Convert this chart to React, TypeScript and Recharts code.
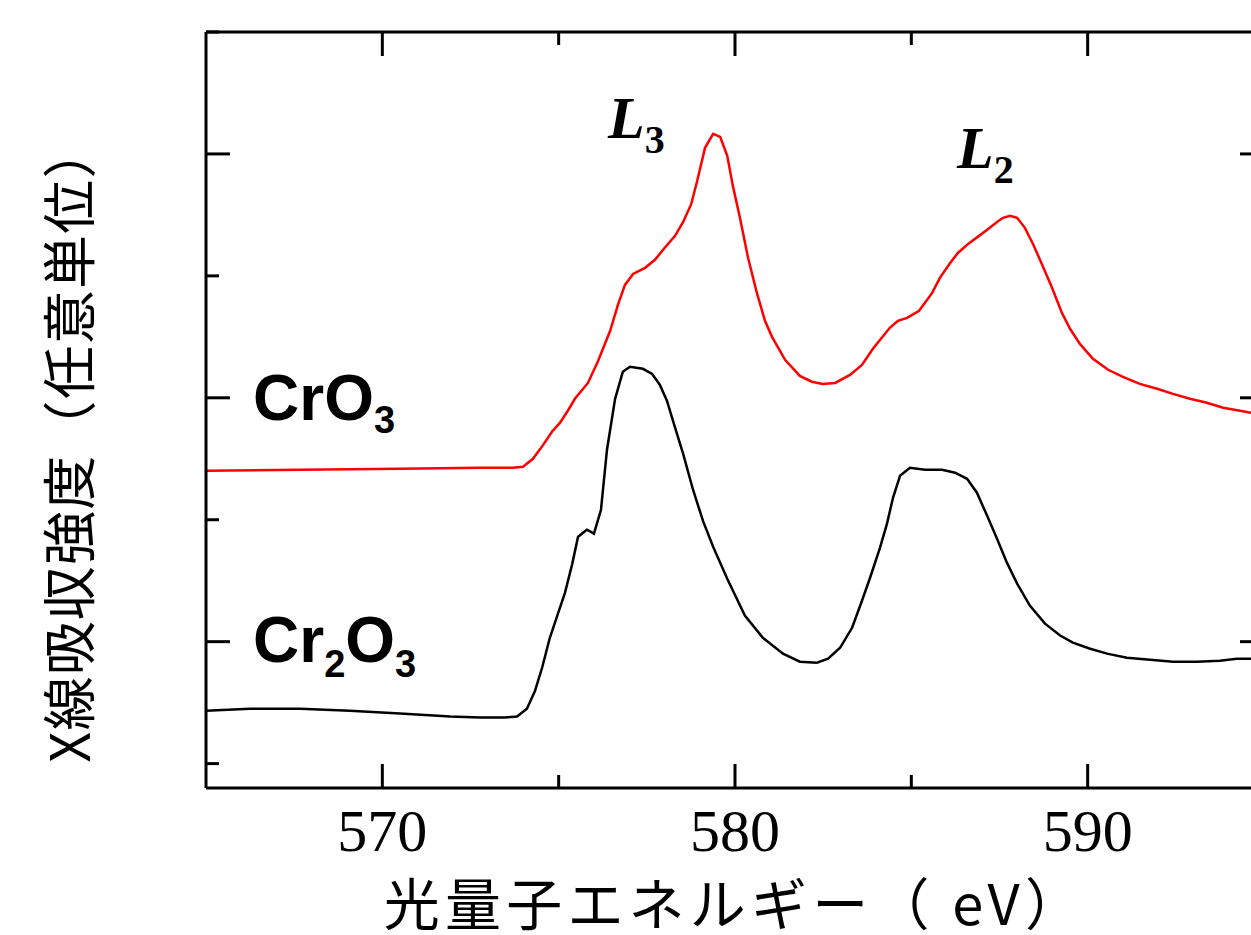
import React from 'react';
import { LineChart, Line, XAxis, YAxis } from 'recharts';

// Axis setup
const xTicks = [570, 575, 580, 585, 590];
const majorXTicks = [570, 580, 590];
const yTicks = [0.5, 1, 1.5, 2, 2.5, 3, 3.5];
const majorYTicks = [1, 2, 3];
const xDomain: [number, number] = [565, 595];
const yDomain: [number, number] = [0.4, 3.5];

// Labels
const xTitle = '光量子エネルギー（ eV）';
const yTitle = 'X線吸収強度（任意単位）';

// CrO3 spectrum (red)
const crO3Energy = [
  565.0, 567.67, 570.5, 572.77, 573.7, 573.99, 574.27, 574.56, 574.81, 575.04,
  575.26, 575.46, 575.83, 576.12, 576.46, 576.68, 576.88, 577.11, 577.45, 577.73,
  577.96, 578.3, 578.53, 578.76, 578.92, 579.15, 579.38, 579.58, 579.78, 579.94,
  580.14, 580.37, 580.62, 580.85, 581.05, 581.42, 581.84, 582.18, 582.49, 582.84,
  583.26, 583.6, 583.91, 584.39, 584.62, 584.88, 585.22, 585.59, 585.81, 586.1,
  586.32, 586.61, 586.92, 587.15, 587.43, 587.6, 587.8, 588.0, 588.22, 588.45,
  588.7, 588.99, 589.27, 589.5, 589.78, 590.15, 590.58, 591.0, 591.48, 591.97,
  592.42, 592.9, 593.38, 593.84, 594.32, 594.63, 595.0,
];
const crO3Intensity = [
  1.701, 1.705, 1.709, 1.713, 1.713, 1.717, 1.75, 1.807, 1.861, 1.898,
  1.947, 1.996, 2.061, 2.152, 2.275, 2.381, 2.463, 2.508, 2.533, 2.566,
  2.607, 2.664, 2.721, 2.795, 2.885, 3.025, 3.082, 3.07, 2.992, 2.869,
  2.738, 2.574, 2.43, 2.316, 2.25, 2.156, 2.09, 2.066, 2.057, 2.061,
  2.094, 2.135, 2.201, 2.287, 2.316, 2.328, 2.357, 2.43, 2.492, 2.553,
  2.594, 2.631, 2.664, 2.689, 2.721, 2.738, 2.746, 2.738, 2.697, 2.631,
  2.549, 2.451, 2.348, 2.283, 2.221, 2.16, 2.115, 2.086, 2.057, 2.037,
  2.016, 1.996, 1.98, 1.959, 1.947, 1.939, 1.93,
];

// Cr2O3 spectrum (black)
const cr2O3Energy = [
  565.0, 566.25, 567.67, 569.08, 570.5, 571.92, 572.77, 573.48, 573.82, 574.1,
  574.33, 574.53, 574.75, 574.98, 575.18, 575.38, 575.55, 575.8, 576.0, 576.2,
  576.37, 576.6, 576.82, 577.02, 577.39, 577.65, 577.87, 578.07, 578.24, 578.53,
  578.81, 579.1, 579.38, 579.78, 580.28, 580.79, 581.36, 581.84, 582.32, 582.64,
  582.98, 583.32, 583.6, 583.83, 584.11, 584.31, 584.48, 584.68, 584.96, 585.39,
  585.87, 586.24, 586.58, 586.86, 587.15, 587.43, 587.71, 588.0, 588.36, 588.79,
  589.22, 589.58, 590.07, 590.55, 591.11, 591.77, 592.42, 593.1, 593.75, 594.23,
  594.63, 595.0,
];
const cr2O3Intensity = [
  0.717, 0.725, 0.725, 0.717, 0.705, 0.693, 0.689, 0.689, 0.693, 0.725,
  0.799, 0.893, 1.016, 1.115, 1.201, 1.316, 1.43, 1.459, 1.443, 1.541,
  1.787, 1.996, 2.107, 2.127, 2.119, 2.098, 2.053, 1.988, 1.906, 1.77,
  1.623, 1.492, 1.389, 1.258, 1.107, 1.016, 0.951, 0.918, 0.914, 0.93,
  0.975, 1.057, 1.168, 1.262, 1.385, 1.484, 1.59, 1.68, 1.713, 1.705,
  1.705, 1.693, 1.668, 1.611, 1.516, 1.422, 1.324, 1.238, 1.148, 1.074,
  1.025, 0.996, 0.971, 0.951, 0.934, 0.926, 0.918, 0.918, 0.922, 0.93,
  0.93, 0.934,
];

const crO3Data = crO3Energy.map((e, i) => ({ e, v: crO3Intensity[i] }));
const cr2O3Data = cr2O3Energy.map((e, i) => ({ e, v: cr2O3Intensity[i] }));

const MAJOR = 24;
const MINOR = 13;
const AX = 3;

const BottomTick = (props: any) => {
  const { x, y, payload } = props;
  const major = majorXTicks.includes(payload.value);
  return (
    <g>
      <line x1={x} y1={y} x2={x} y2={y - (major ? MAJOR : MINOR)} stroke="#000" strokeWidth={AX} />
      {major && (
        <text
          x={x}
          y={y + 63}
          textAnchor="middle"
          fontFamily="'Liberation Serif', 'Times New Roman', serif"
          fontSize={60}
          fill="#000"
        >
          {String(payload.value)}
        </text>
      )}
    </g>
  );
};

const TopTick = (props: any) => {
  const { x, y, payload } = props;
  const major = majorXTicks.includes(payload.value);
  return <line x1={x} y1={y} x2={x} y2={y + (major ? MAJOR : MINOR)} stroke="#000" strokeWidth={AX} />;
};

const LeftTick = (props: any) => {
  const { x, y, payload } = props;
  const major = majorYTicks.includes(payload.value);
  return <line x1={x} y1={y} x2={x + (major ? MAJOR : MINOR)} y2={y} stroke="#000" strokeWidth={AX} />;
};

const RightTick = (props: any) => {
  const { x, y, payload } = props;
  const major = majorYTicks.includes(payload.value);
  return <line x1={x} y1={y} x2={x - (major ? MAJOR : MINOR)} y2={y} stroke="#000" strokeWidth={AX} />;
};

const axisLine = { stroke: '#000', strokeWidth: AX };

export default function App() {
  return (
    <div
      style={{
        position: 'absolute',
        left: 0,
        top: 0,
        width: 1251,
        height: 935,
        overflow: 'hidden',
        background: '#fff',
      }}
    >
      <LineChart width={1290} height={935} margin={{ top: 31, left: 205, right: 25, bottom: 146 }}>
        <XAxis
          xAxisId="b"
          dataKey="e"
          type="number"
          domain={xDomain}
          allowDataOverflow
          ticks={xTicks}
          height={1}
          tickSize={0}
          tickMargin={0}
          tickLine={false}
          axisLine={axisLine}
          tick={BottomTick}
          interval={0}
        />
        <XAxis
          xAxisId="t"
          orientation="top"
          dataKey="e"
          type="number"
          domain={xDomain}
          allowDataOverflow
          ticks={xTicks}
          height={1}
          tickSize={0}
          tickMargin={0}
          tickLine={false}
          axisLine={axisLine}
          tick={TopTick}
          interval={0}
        />
        <YAxis
          yAxisId="l"
          type="number"
          domain={yDomain}
          allowDataOverflow
          ticks={yTicks}
          width={1}
          tickSize={0}
          tickMargin={0}
          tickLine={false}
          axisLine={axisLine}
          tick={LeftTick}
          interval={0}
        />
        <YAxis
          yAxisId="r"
          orientation="right"
          type="number"
          domain={yDomain}
          allowDataOverflow
          ticks={yTicks}
          width={1}
          tickSize={0}
          tickMargin={0}
          tickLine={false}
          axisLine={axisLine}
          tick={RightTick}
          interval={0}
        />
        <Line
          data={crO3Data}
          dataKey="v"
          xAxisId="b"
          yAxisId="l"
          type="linear"
          stroke="#ff0000"
          strokeWidth={2.5}
          dot={false}
          activeDot={false}
          isAnimationActive={false}
        />
        <Line
          data={cr2O3Data}
          dataKey="v"
          xAxisId="b"
          yAxisId="l"
          type="linear"
          stroke="#000000"
          strokeWidth={2.5}
          dot={false}
          activeDot={false}
          isAnimationActive={false}
        />
      </LineChart>
      <svg
        width={1251}
        height={935}
        style={{ position: 'absolute', left: 0, top: 0, pointerEvents: 'none' }}
      >
        <text
          transform="translate(66,443) rotate(-90)"
          textAnchor="middle"
          dominantBaseline="central"
          fontFamily="'Noto Sans CJK JP', sans-serif"
          fontSize={54}
          letterSpacing={1.2}
          fill="#000"
        >
          {yTitle}
        </text>
        <text
          x={735}
          y={900}
          textAnchor="middle"
          dominantBaseline="central"
          fontFamily="'Noto Sans CJK JP', sans-serif"
          fontSize={56}
          letterSpacing={5.2}
          fill="#000"
        >
          {xTitle}
        </text>
        <text x={253} y={420} fontFamily="'Liberation Sans', Arial, sans-serif" fontWeight="bold" fontSize={64} fill="#000">
          CrO<tspan fontSize={38} dy={13}>3</tspan>
        </text>
        <text x={253} y={662} fontFamily="'Liberation Sans', Arial, sans-serif" fontWeight="bold" fontSize={64} fill="#000">
          Cr<tspan fontSize={38} dy={15}>2</tspan>
          <tspan dy={-15}>O</tspan>
          <tspan fontSize={38} dy={15}>3</tspan>
        </text>
        <text x={608} y={138} fontFamily="'Liberation Serif', 'Times New Roman', serif" fontWeight="bold" fontSize={60} fill="#000">
          <tspan fontStyle="italic">L</tspan>
          <tspan fontSize={40} dy={15}>3</tspan>
        </text>
        <text x={957} y={168} fontFamily="'Liberation Serif', 'Times New Roman', serif" fontWeight="bold" fontSize={60} fill="#000">
          <tspan fontStyle="italic">L</tspan>
          <tspan fontSize={40} dy={15}>2</tspan>
        </text>
      </svg>
    </div>
  );
}
